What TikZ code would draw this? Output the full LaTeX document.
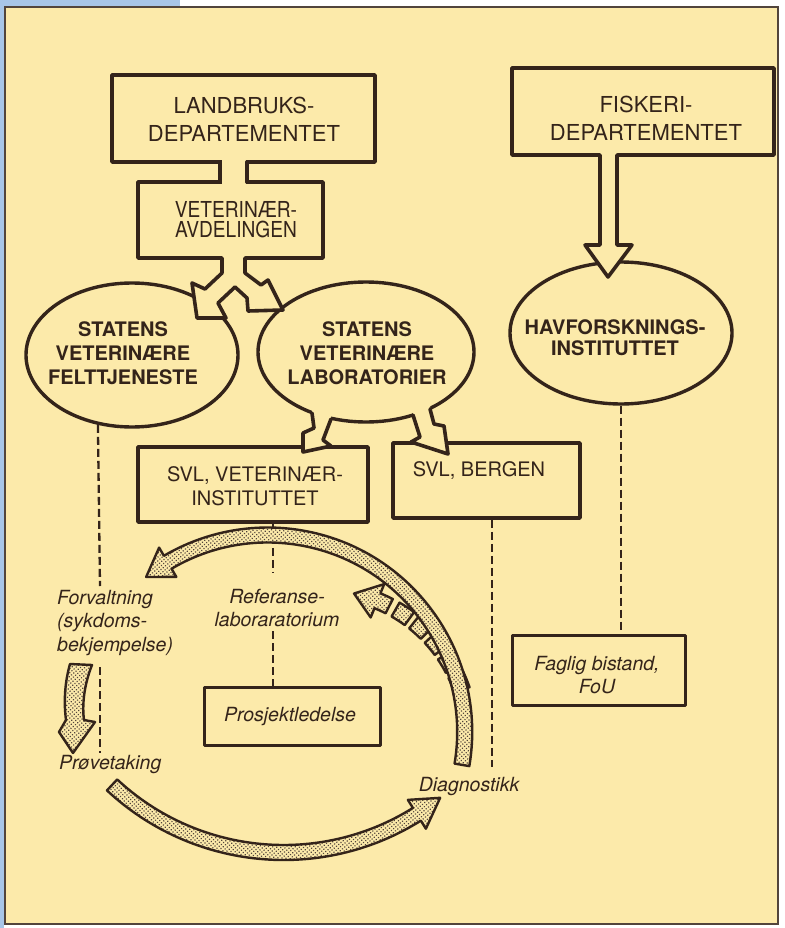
\documentclass[tikz,border=0pt]{standalone}
\usepackage{fontspec}
\setmainfont{TeX Gyre Heros}
\usepackage{graphicx}
\usetikzlibrary{shapes.geometric,patterns.meta}
\definecolor{bg}{RGB}{252,234,170}
\definecolor{ink}{RGB}{52,36,26}
\definecolor{side}{RGB}{168,198,232}
\begin{document}
\begin{tikzpicture}[x=1pt,y=1pt,yscale=-1,
  box/.style={draw=ink, line width=3.6pt, rectangle, inner sep=0pt, line join=round},
  sbox/.style={draw=ink, line width=3pt, rectangle, inner sep=0pt, line join=round},
  ell/.style={draw=ink, line width=3.4pt, ellipse, fill=bg, inner sep=0pt},
  dsh/.style={draw=ink, line width=2.3pt, dash pattern=on 8pt off 4pt},
  wl/.style={draw=ink, line width=3.6pt, line join=round, line cap=round},
  stip/.style={draw=ink, line width=2.4pt, line join=round, preaction={fill=bg},
    pattern={Dots[angle=40,distance=2.9pt,radius=0.85pt]}, pattern color=ink!85},
  dept/.style={text=ink, align=center, inner sep=0pt, font=\fontsize{22}{28}\selectfont},
  avd/.style={text=ink, align=center, inner sep=0pt, font=\fontsize{22}{20}\selectfont},
  bold/.style={text=ink, align=center, inner sep=0pt, font=\bfseries\fontsize{20}{24}\selectfont},
  svl/.style={text=ink, align=center, inner sep=0pt, font=\fontsize{20}{24}\selectfont},
  lab/.style={text=ink, align=center, inner sep=0pt, font=\itshape\fontsize{19.5}{23.5}\selectfont}
]
\useasboundingbox (0,0) rectangle (784,928);
\fill[white] (0,0) rectangle (784,928);
\fill[side] (0,0) rectangle (180,6);
\fill[side] (0,0) rectangle (4,928);
\filldraw[fill=bg, draw=ink!85, line width=1.6pt] (5,7) rectangle (778,924);

% boxes and ellipses
\node[box, minimum width=263pt, minimum height=87pt] (ld) at (243.5,118.5) {};
\node[box, minimum width=262pt, minimum height=87pt] (fd) at (643,111.5) {};
\node[box, minimum width=185pt, minimum height=76pt] (va) at (230.5,220) {};
\node[ell, minimum width=212pt, minimum height=144pt] (svf) at (132,355) {};
\node[ell, minimum width=216pt, minimum height=140pt] (svl) at (366,352) {};
\node[ell, minimum width=222pt, minimum height=142pt] (hav) at (621,333) {};
\node[box, minimum width=230pt, minimum height=75pt] (vi) at (253,484.5) {};
\node[box, minimum width=187pt, minimum height=75pt] (sb) at (486.5,480.5) {};
\node[sbox, minimum width=176pt, minimum height=58pt] (pj) at (292,716) {};
\node[sbox, minimum width=173pt, minimum height=70pt] (fb) at (598.5,670) {};

% dashed connectors
\coordinate (fv1) at (100,586);
\coordinate (fv2) at (100,667);
\coordinate (pv) at (100,753);
\coordinate (r1) at (273,573);
\coordinate (r2) at (273,631);
\coordinate (bd) at (492,767);
\draw[dsh] (svf.244) -- (fv1);
\draw[dsh] (fv2) -- (pv);
\draw[dsh] (r1 |- vi.south) -- (r1);
\draw[dsh] (r2) -- (r2 |- pj.north);
\draw[dsh] (bd |- sb.south) -- (bd);
\draw[dsh] (hav.south) -- (hav.south |- fb.north);

% stem between the two top boxes
\fill[bg] (221.5,159) rectangle (245.5,185);
\draw[wl] (220,162) -- (220,182);
\draw[wl] (247,162) -- (247,182);

% fork below VETERINAER-AVDELINGEN
\fill[bg] (222,254) -- (222,273) -- (205,289) -- (192,283) -- (197,318) -- (226,318) -- (218,303) -- (235,287) -- (247,298) -- (248,311) -- (283,310) -- (268,280) -- (261,285) -- (245,273) -- (245,254) -- cycle;
\draw[wl] (222,258) -- (222,273) -- (205,289) -- (192,283) -- (197,318) -- (226,318) -- (218,303) -- (235,287) -- (247,298) -- (248,311) -- (283,310) -- (268,280) -- (261,285) -- (245,273) -- (245,258);

% fork below STATENS VETERINAERE LABORATORIER
\fill[bg] (312,405) -- (312,413) -- (314,428) -- (303,433) -- (303,452) -- (331,446) -- (323,440) -- (331,419) -- (331,405) -- cycle;
\draw[wl] (312,413) -- (314,428) -- (303,433) -- (303,452) -- (331,446) -- (323,440) -- (331,419);
\fill[bg] (413,405) -- (413,415) -- (420,437) -- (411,442) -- (448,454) -- (444,426) -- (434,424) -- (430,409) -- (430,400) -- cycle;
\draw[wl] (413,415) -- (420,437) -- (411,442) -- (448,454) -- (444,426) -- (434,424) -- (430,409);

% FISKERI -> HAVFORSKNING arrow
\fill[bg] (600,151) -- (600,245) -- (585,245) -- (608,277) -- (632,245) -- (617,245) -- (617,151) -- cycle;
\draw[wl] (600,155) -- (600,245) -- (585,245) -- (608,277) -- (632,245) -- (617,245) -- (617,155);

% dashed (segmented) stippled arrow
\begin{scope}[shift={(322,738)}]
  \foreach \c in {-57,-48.3,-39.6,-30.9,-22.2} {
    \pgfmathsetmacro\ca{\c-3.2}
    \pgfmathsetmacro\cb{\c+3.2}
    \path[stip] (\ca:156) arc[start angle=\ca, end angle=\cb, radius=156] -- (\cb:140) arc[start angle=\cb, end angle=\ca, radius=140] -- cycle;
  }
  \path[stip] (-63:156) arc[start angle=-63,end angle=-68,radius=156] -- (-68:166) -- (-77.5:148) -- (-68:130) -- (-68:140) arc[start angle=-68,end angle=-63,radius=140] -- cycle;
\end{scope}

% big upper arc: Diagnostikk -> Forvaltning
\begin{scope}[shift={(267.7,732)}]
  \path[stip] (9.6:204.5) arc[start angle=9.6, end angle=-120.5, radius=204.5] -- (-120.5:214) -- (-128.1:197) -- (-120.5:180) -- (-120.5:189.5) arc[start angle=-120.5, end angle=9.6, radius=189.5] -- cycle;
\end{scope}

% big lower arc: Proevetaking -> Diagnostikk
\begin{scope}[shift={(283.6,601)}]
  \path[stip] (133:259) arc[start angle=133, end angle=58, radius=259] -- (58:268.5) -- (51.5:251.5) -- (58:234.5) -- (58:244) arc[start angle=58, end angle=133, radius=244] -- cycle;
\end{scope}

% small arrow Forvaltning -> Proevetaking
\path[stip] (70,664) .. controls (64,685) and (64,705) .. (66,720) -- (59,732) -- (73,753) -- (95,722) -- (84,720) .. controls (82,705) and (84,685) .. (92,665) -- cycle;

% texts
\node[dept] (ldt) at (244,119.5) {LANDBRUKS-\\DEPARTEMENTET};
\node[dept] (fdt) at (646,118.5) {FISKERI-\\DEPARTEMENTET};
\node[avd] (vat) at (236,220) {\scalebox{0.87}[1]{VETERINÆR-}\\\scalebox{0.87}[1]{AVDELINGEN}};
\node[bold] (svft) at (123,353.5) {STATENS\\VETERINÆRE\\FELTTJENESTE};
\node[bold] (svlt) at (367,353.5) {STATENS\\VETERINÆRE\\LABORATORIER};
\node[bold, font=\bfseries\fontsize{20}{21.5}\selectfont] (havt) at (615,337.5) {HAVFORSKNINGS-\\INSTITUTTET};
\node[svl] (vit) at (255,486) {SVL, VETERINÆR-\\INSTITUTTET};
\node[svl] (sbt) at (479,470) {SVL, BERGEN};
\node[lab, align=left, anchor=west] (fvt) at (57,623) {Forvaltning\\(sykdoms-\\bekjempelse)};
\node[lab, font=\itshape\fontsize{19.5}{22.5}\selectfont] (reft) at (277,608) {Referanse-\\laboraratorium};
\node[lab] (pjt) at (290,717) {Prosjektledelse};
\node[lab] (fbt) at (597,675) {Faglig bistand,\\FoU};
\node[lab, anchor=west] (pvt) at (59,765) {Prøvetaking};
\node[lab] (dgt) at (469,787) {Diagnostikk};
\end{tikzpicture}
\end{document}
